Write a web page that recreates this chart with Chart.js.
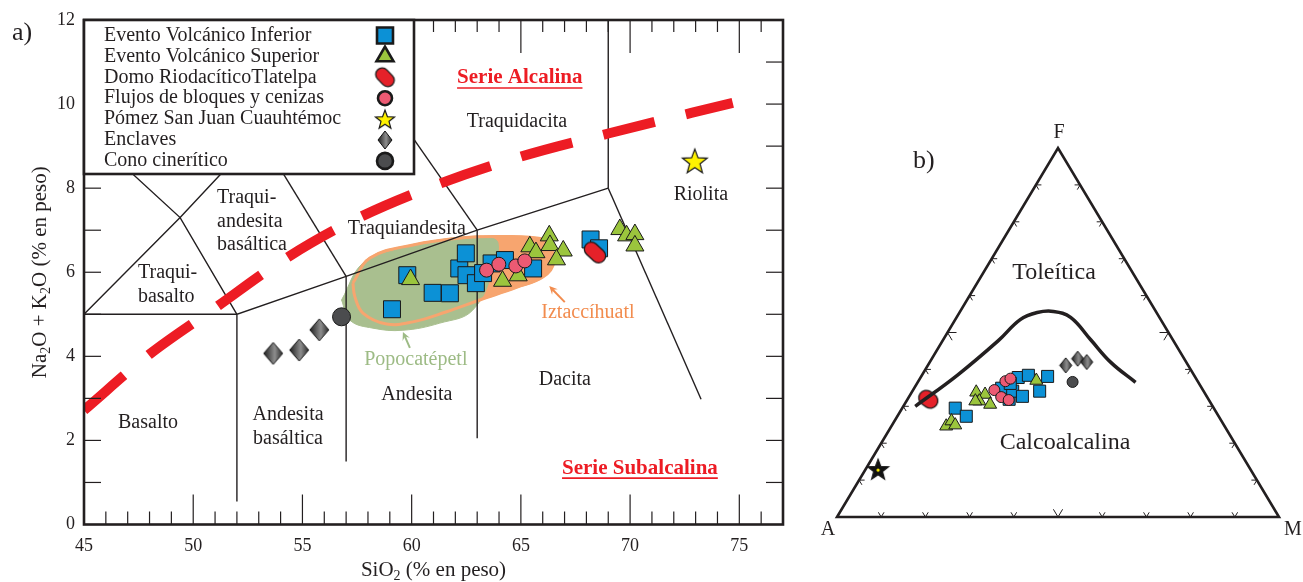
<!DOCTYPE html>
<html>
<head>
<meta charset="utf-8">
<script src="https://cdn.jsdelivr.net/npm/chart.js@4.4.1/dist/chart.umd.min.js"></script>
<style>
  body { margin: 0; background: #fff; }
  #tas { position: absolute; left: 0; top: 0; }
  #afm { position: absolute; left: 800px; top: 0; }
</style>
</head>
<body>
<canvas id="tas" width="800" height="582"></canvas>
<canvas id="afm" width="503" height="582"></canvas>
<script>
// ---- datos ----
const xTicks = [45, 50, 55, 60, 65, 70, 75];
const yTicks = [0, 2, 4, 6, 8, 10, 12];

// diagrama TAS: [SiO2, Na2O + K2O]
const inferiorTAS = [[59.1, 5.12], [59.8, 5.93], [60.96, 5.51], [61.75, 5.5], [62.18, 6.09], [62.48, 6.45], [62.51, 5.93],
  [62.94, 5.74], [63.27, 5.98], [63.66, 6.21], [64.27, 6.29], [65.56, 6.09], [68.19, 6.78], [68.58, 6.57]];
const superiorTAS = [[59.95, 5.83], [64.16, 5.79], [64.88, 5.92], [65.41, 6.61], [65.69, 6.47], [66.3, 6.87], [66.33, 6.64],
  [66.94, 6.51], [66.63, 6.3], [69.53, 7.02], [69.84, 6.87], [70.22, 6.9], [70.22, 6.63]];
const domoTAS = [[68.39, 6.47]];
const flujosTAS = [[63.43, 6.05], [63.99, 6.19], [64.77, 6.15], [65.18, 6.27]];
const pomezTAS = [[72.96, 8.65]];
const enclavesTAS = [[53.66, 4.07], [54.85, 4.15], [55.77, 4.63]];
const conoTAS = [[56.79, 4.94]];

// campos de Popocatépetl e Iztaccíhuatl
const campoPopo = [[56.79, 5.34], [57.77, 6.22], [59.31, 6.53], [60.84, 6.73], [62.67, 6.85], [63.58, 6.82], [63.95, 6.7],
  [63.81, 6.17], [62.8, 5.1], [61.29, 4.79], [59.6, 4.62], [58.23, 4.67], [57.17, 4.86], [56.79, 5.34]];
const campoIzta = [[57.31, 5.74], [58.09, 6.34], [60.06, 6.65], [62.35, 6.82], [64.18, 6.85], [65.41, 6.83], [66.18, 6.73],
  [66.51, 6.25], [66.02, 5.89], [64.8, 5.64], [63.12, 5.34], [61.6, 5.06], [60.06, 4.82], [58.85, 4.77], [57.77, 5.03],
  [57.4, 5.42], [57.31, 5.74]];

// limites de campos (Le Bas et al.)
const limitesTAS = [
  [[45, 5], [52, 5]],
  [[52, 0.55], [52, 5], [57, 5.9], [63, 7], [69, 8]],
  [[57, 1.5], [57, 5.9]],
  [[63, 2.05], [63, 7]],
  [[69, 8], [73.25, 2.98]],
  [[69, 8], [69, 12]],
  [[45, 5], [49.4, 7.3], [53, 9.3], [56.7, 11.7]],
  [[45, 9.4], [49.4, 7.3], [52, 5]],
  [[53, 9.3], [57, 5.9]],
  [[56.7, 11.7], [63, 7]]
];
const lineaAlcalina = [[45, 2.72], [48, 4.05], [51, 5.15], [54, 6.25], [57, 7.15], [61, 8.05], [65, 8.75], [69, 9.3], [74.7, 10.03]];

// diagrama AFM: [A, F, M] en %
const inferiorAFM = [[58.5, 29.5, 12.0], [57.1, 27.3, 15.6], [45.3, 34.9, 19.8], [45.1, 31.9, 23.0], [43.2, 34.1, 22.7],
  [40.1, 37.8, 22.1], [41.7, 32.7, 25.6], [37.5, 38.4, 24.1], [37.1, 34.1, 28.8], [33.3, 38.1, 28.6], [42.7, 36.2, 21.1]];
const superiorAFM = [[63.0, 24.6, 12.4], [61.1, 26.0, 12.9], [60.8, 24.9, 14.3], [51.6, 33.8, 14.6], [49.9, 33.2, 16.9],
  [52.1, 31.4, 16.5], [50.1, 30.5, 19.4], [53.0, 31.4, 15.6], [36.4, 37.0, 26.6]];
const domoAFM = [[63.4, 31.9, 4.7]];
const flujosAFM = [[43.5, 36.8, 19.7], [42.0, 37.5, 20.5], [47.2, 34.4, 18.4], [46.6, 32.5, 20.9], [45.3, 31.7, 23.0]];
const pomezAFM = [[84.2, 13.0, 2.8]];
const enclavesAFM = [[27.7, 41.1, 31.2], [24.1, 42.9, 33.0], [22.5, 42.0, 35.5]];
const conoAFM = [[28.4, 36.6, 35.0]];
const curvaAFM = [[67.3, 30.0, 2.7], [53.6, 38.4, 8.0], [39.6, 47.8, 12.6], [31.8, 53.5, 14.7], [27.0, 55.4, 17.6],
  [23.2, 55.7, 21.1], [20.1, 54.1, 25.8], [18.6, 48.1, 33.3], [17.1, 41.9, 41.0], [14.2, 36.5, 49.3]];

// ---- estilos ----
const serif = '"Liberation Serif", "Times New Roman", serif';
const ink = '#231f20';
const azul = '#0c91d6', verde = '#9bc53d', rosa = '#ec5a73', rojo = '#e52129', gris = '#4b4c4e';
const verdeCampo = '#a9bf8f', naranja = '#f7a56f';

function lienzo(w, h, pintar) {
  const c = document.createElement('canvas');
  c.width = w; c.height = h;
  pintar(c.getContext('2d'), w, h);
  return c;
}
function capsula(len, wid, ang) {
  const s = Math.ceil(len + 6);
  return lienzo(s, s, (c) => {
    c.translate(s / 2, s / 2);
    c.rotate(ang);
    const r = wid / 2, h = len / 2 - r;
    c.beginPath();
    c.arc(h, 0, r, -Math.PI / 2, Math.PI / 2);
    c.arc(-h, 0, r, Math.PI / 2, Math.PI * 1.5);
    c.closePath();
    c.fillStyle = rojo; c.fill();
    c.lineWidth = 1.3; c.strokeStyle = '#1a1a1a'; c.stroke();
  });
}
function estrella(R, relleno, punto) {
  const s = Math.ceil(2 * R + 6);
  return lienzo(s, s, (c) => {
    c.translate(s / 2, s / 2 + R * 0.1);
    c.beginPath();
    for (let i = 0; i < 10; i++) {
      const r = i % 2 ? R * 0.42 : R;
      const a = -Math.PI / 2 + i * Math.PI / 5;
      c.lineTo(Math.cos(a) * r, Math.sin(a) * r);
    }
    c.closePath();
    c.fillStyle = relleno; c.fill();
    c.lineWidth = 1.2; c.strokeStyle = '#1a1a1a'; c.stroke();
    if (punto) {
      c.beginPath(); c.arc(0, 0, 1.6, 0, Math.PI * 2);
      c.fillStyle = punto; c.fill();
    }
  });
}
function rombo(w, h) {
  return lienzo(w + 4, h + 4, (c) => {
    const cx = (w + 4) / 2, cy = (h + 4) / 2;
    const g = c.createLinearGradient(cx - w / 2, 0, cx + w / 2, 0);
    g.addColorStop(0, '#1e1e1e');
    g.addColorStop(0.58, '#8e8e8e');
    g.addColorStop(1, '#2a2a2a');
    c.beginPath();
    c.moveTo(cx, cy - h / 2); c.lineTo(cx + w / 2, cy); c.lineTo(cx, cy + h / 2); c.lineTo(cx - w / 2, cy);
    c.closePath();
    c.fillStyle = g; c.fill();
    c.lineWidth = 1; c.strokeStyle = '#111'; c.stroke();
  });
}

const pt = arr => arr.map(p => ({ x: p[0], y: p[1] }));
const tern = arr => arr.map(p => ({ x: (p[2] + p[1] / 2) / 100, y: p[1] / 100 }));

function texto(ctx, s, x, y, size, align, color, bold) {
  ctx.font = (bold ? 'bold ' : '') + size + 'px ' + serif;
  ctx.fillStyle = color || ink;
  ctx.textAlign = align || 'center';
  ctx.textBaseline = 'middle';
  ctx.fillText(s, x, y);
}
function textoSub(ctx, partes, x, y, size) {
  const sub = Math.round(size * 0.68);
  let w = 0;
  partes.forEach(p => { ctx.font = (p[1] ? sub : size) + 'px ' + serif; w += ctx.measureText(p[0]).width; });
  let cx = x - w / 2;
  ctx.textAlign = 'left';
  ctx.textBaseline = 'middle';
  ctx.fillStyle = ink;
  partes.forEach(p => {
    ctx.font = (p[1] ? sub : size) + 'px ' + serif;
    ctx.fillText(p[0], cx, y + (p[1] ? size * 0.3 : 0));
    cx += ctx.measureText(p[0]).width;
  });
}
function linea(ctx, x1, y1, x2, y2) {
  ctx.beginPath(); ctx.moveTo(x1, y1); ctx.lineTo(x2, y2); ctx.stroke();
}
function flecha(ctx, x1, y1, x2, y2, color) {
  const a = Math.atan2(y2 - y1, x2 - x1);
  ctx.strokeStyle = color; ctx.fillStyle = color; ctx.lineWidth = 2;
  linea(ctx, x1, y1, x2 - Math.cos(a) * 4, y2 - Math.sin(a) * 4);
  ctx.beginPath();
  ctx.moveTo(x2, y2);
  ctx.lineTo(x2 - Math.cos(a - 0.45) * 9, y2 - Math.sin(a - 0.45) * 9);
  ctx.lineTo(x2 - Math.cos(a) * 5, y2 - Math.sin(a) * 5);
  ctx.lineTo(x2 - Math.cos(a + 0.45) * 9, y2 - Math.sin(a + 0.45) * 9);
  ctx.closePath();
  ctx.fill();
}

// etiquetas de campos en coordenadas de datos
const etiquetasTAS = [
  ['Traquidacita', 64.82, 9.57, 'center'],
  ['Riolita', 73.24, 7.84, 'center'],
  ['Traquiandesita', 59.78, 7.03, 'center'],
  ['Traqui-', 51.09, 7.77, 'left'], ['andesita', 51.09, 7.2, 'left'], ['basáltica', 51.09, 6.65, 'left'],
  ['Traqui-', 47.47, 5.98, 'left'], ['basalto', 47.47, 5.41, 'left'],
  ['Basalto', 47.93, 2.41, 'center'],
  ['Andesita', 54.34, 2.6, 'center'], ['basáltica', 54.34, 2.03, 'center'],
  ['Andesita', 60.24, 3.08, 'center'],
  ['Dacita', 67.01, 3.44, 'center']
];

const estiloDomo = capsula(24, 14, 0.75), estiloDomoLey = capsula(21, 13, 0.8), estiloDomoT = capsula(20, 15, 0.6);
const estiloPomez = estrella(13, '#fff200'), estiloPomezLey = estrella(10, '#fff200'), estiloPomezT = estrella(11, '#111', '#fff200');
const estiloRombo = rombo(19, 22), estiloRomboLey = rombo(14, 18), estiloRomboT = rombo(12, 15);

const series = [
  { label: 'Evento Volcánico Inferior', tas: inferiorTAS, afm: inferiorAFM, style: 'rect', color: azul, r: 12, rl: 11.3, rt: 8.5 },
  { label: 'Evento Volcánico Superior', tas: superiorTAS, afm: superiorAFM, style: 'triangle', color: verde, r: 10.4, rl: 9.8, rt: 7.5 },
  { label: 'Domo RiodacíticoTlatelpa', tas: domoTAS, afm: domoAFM, style: estiloDomo, sl: estiloDomoLey, st: estiloDomoT, color: rojo, r: 10, rl: 10, rt: 10 },
  { label: 'Flujos de bloques y cenizas', tas: flujosTAS, afm: flujosAFM, style: 'circle', color: rosa, r: 7, rl: 7, rt: 5.5 },
  { label: 'Pómez San Juan Cuauhtémoc', tas: pomezTAS, afm: pomezAFM, style: estiloPomez, sl: estiloPomezLey, st: estiloPomezT, color: '#fff200', r: 10, rl: 10, rt: 10 },
  { label: 'Enclaves', tas: enclavesTAS, afm: enclavesAFM, style: estiloRombo, sl: estiloRomboLey, st: estiloRomboT, color: gris, r: 10, rl: 10, rt: 10 },
  { label: 'Cono cinerítico', tas: conoTAS, afm: conoAFM, style: 'circle', color: gris, r: 9, rl: 8, rt: 5.5 }
];

// ---- diagrama TAS ----
const decoracionTAS = {
  id: 'decoracionTAS',
  afterDatasetsDraw(chart) {
    const { ctx, chartArea: a, scales: { x, y } } = chart;
    ctx.save();
    etiquetasTAS.forEach(e => texto(ctx, e[0], x.getPixelForValue(e[1]), y.getPixelForValue(e[2]), 20, e[3]));
    // series alcalina / subalcalina
    [['Serie Alcalina', 64.95, 10.62], ['Serie Subalcalina', 70.45, 1.34]].forEach(e => {
      const px = x.getPixelForValue(e[1]), py = y.getPixelForValue(e[2]);
      texto(ctx, e[0], px, py, 21, 'center', '#ed1c24', true);
      const w = ctx.measureText(e[0]).width;
      ctx.strokeStyle = '#ed1c24'; ctx.lineWidth = 1.6;
      linea(ctx, px - w / 2, py + 10, px + w / 2, py + 10);
    });
    texto(ctx, 'Popocatépetl', x.getPixelForValue(60.19), y.getPixelForValue(3.91), 20, 'center', '#9dbb85');
    texto(ctx, 'Iztaccíhuatl', x.getPixelForValue(68.07), y.getPixelForValue(5.03), 20, 'center', '#f28c4e');
    flecha(ctx, x.getPixelForValue(59.92), y.getPixelForValue(4.2), x.getPixelForValue(59.6), y.getPixelForValue(4.58), '#9dbb85');
    flecha(ctx, x.getPixelForValue(67.01), y.getPixelForValue(5.29), x.getPixelForValue(66.3), y.getPixelForValue(5.67), '#f28c4e');

    // marco y marcas internas
    ctx.strokeStyle = ink;
    ctx.lineWidth = 1.2;
    for (let v = 46; v < 77; v++) {
      const px = x.getPixelForValue(v), mayor = v % 5 === 0;
      linea(ctx, px, a.bottom, px, a.bottom - (mayor ? 30 : 13));
      linea(ctx, px, a.top, px, a.top + (mayor ? 33 : 12));
    }
    for (let v = 1; v < 12; v++) {
      const py = y.getPixelForValue(v);
      linea(ctx, a.left, py, a.left + 17, py);
      linea(ctx, a.right, py, a.right - 17, py);
    }
    ctx.lineWidth = 2.6;
    ctx.strokeRect(a.left, a.top, a.right - a.left, a.bottom - a.top);

    // leyenda
    const lx = a.left, ly = a.top, lw = 330, lh = 154;
    ctx.fillStyle = '#fff';
    ctx.fillRect(lx, ly, lw, lh);
    ctx.lineWidth = 2.6; ctx.strokeStyle = ink;
    ctx.strokeRect(lx, ly, lw, lh);
    series.forEach((s, i) => {
      const ry = ly + 15.5 + i * 20.9;
      texto(ctx, s.label, lx + 20, ry, 20, 'left');
      ctx.fillStyle = s.color; ctx.strokeStyle = '#1a1a1a';
      Chart.helpers.drawPoint(ctx, { pointStyle: s.sl || s.style, radius: s.rl, rotation: 0, borderWidth: 1 }, lx + 301, ry);
    });

    // titulos
    texto(ctx, 'a)', 12, 33, 26, 'left');
    textoSub(ctx, [['SiO', 0], ['2', 1], [' (% en peso)', 0]], (a.left + a.right) / 2, 570, 21);
    ctx.translate(40, (a.top + a.bottom) / 2);
    ctx.rotate(-Math.PI / 2);
    textoSub(ctx, [['Na', 0], ['2', 1], ['O + K', 0], ['2', 1], ['O (% en peso)', 0]], 0, 0, 21);
    ctx.restore();
  }
};

const datosTAS = [
  { type: 'line', data: pt(campoIzta), backgroundColor: naranja, borderColor: naranja, borderWidth: 2, fill: 'shape', tension: 0.4, pointRadius: 0, order: 30 },
  { type: 'line', data: pt(campoPopo), backgroundColor: verdeCampo, borderColor: verdeCampo, borderWidth: 1, fill: 'shape', tension: 0.4, pointRadius: 0, order: 29 },
  { type: 'line', data: pt(campoIzta), borderColor: naranja, borderWidth: 3, fill: false, tension: 0.4, pointRadius: 0, order: 28 }
];
limitesTAS.forEach(l => datosTAS.push({ type: 'line', data: pt(l), borderColor: ink, borderWidth: 1.4, fill: false, tension: 0, pointRadius: 0, order: 20 }));
datosTAS.push({ type: 'line', data: pt(lineaAlcalina), borderColor: '#ed1c24', borderWidth: 10, borderDash: [53, 32],
  borderCapStyle: 'butt', cubicInterpolationMode: 'monotone', fill: false, pointRadius: 0, order: 15 });
series.forEach((s, i) => datosTAS.push({
  type: 'scatter', label: s.label, data: pt(s.tas), pointStyle: s.style, pointRadius: s.r,
  backgroundColor: s.color, borderColor: '#1a1a1a', borderWidth: 1, order: 8 - i
}));

new Chart(document.getElementById('tas'), {
  type: 'scatter',
  data: { datasets: datosTAS },
  options: {
    responsive: false, animation: false, events: [],
    layout: { padding: { top: 20, right: 17, left: 0, bottom: 0 } },
    plugins: { legend: { display: false }, tooltip: { enabled: false } },
    scales: {
      x: {
        type: 'linear', min: 45, max: 77,
        grid: { display: false, drawTicks: false }, border: { display: false },
        afterBuildTicks: s => { s.ticks = xTicks.map(v => ({ value: v })); },
        afterFit: s => { s.height = 57.5; },
        ticks: { font: { family: serif, size: 18 }, color: ink, padding: 11, maxRotation: 0, autoSkip: false }
      },
      y: {
        type: 'linear', min: 0, max: 12,
        grid: { display: false, drawTicks: false }, border: { display: false },
        afterBuildTicks: s => { s.ticks = yTicks.map(v => ({ value: v })); },
        afterFit: s => { s.width = 84; },
        ticks: { font: { family: serif, size: 18 }, color: ink, padding: 9, autoSkip: false }
      }
    }
  },
  plugins: [decoracionTAS]
});

// ---- diagrama AFM ----
const decoracionAFM = {
  id: 'decoracionAFM',
  beforeDatasetsDraw(chart) {
    const { ctx, scales: { x, y } } = chart;
    const P = (a, f, m) => ({ x: x.getPixelForValue((m + f / 2) / 100), y: y.getPixelForValue(f / 100) });
    const A = P(100, 0, 0), F = P(0, 100, 0), M = P(0, 0, 100);
    const dir = (p, q) => { const dx = q.x - p.x, dy = q.y - p.y, n = Math.hypot(dx, dy); return { x: dx / n, y: dy / n }; };
    const dAF = dir(A, F), dAM = dir(A, M), dMF = dir(M, F);
    ctx.save();
    ctx.strokeStyle = ink;
    ctx.lineWidth = 1;
    const marca = (p, u, v, len) => {
      linea(ctx, p.x, p.y, p.x + u.x * len, p.y + u.y * len);
      linea(ctx, p.x, p.y, p.x + v.x * len, p.y + v.y * len);
    };
    for (let i = 1; i < 10; i++) {
      const t = i / 10, len = i === 5 ? 9 : 5.5;
      marca({ x: A.x + (F.x - A.x) * t, y: A.y + (F.y - A.y) * t }, dAM, { x: -dMF.x, y: -dMF.y }, len);
      marca({ x: M.x + (F.x - M.x) * t, y: M.y + (F.y - M.y) * t }, { x: -dAM.x, y: -dAM.y }, { x: -dAF.x, y: -dAF.y }, len);
      marca({ x: A.x + (M.x - A.x) * t, y: A.y + (M.y - A.y) * t }, dAF, dMF, len);
    }
    ctx.lineWidth = 2.6;
    ctx.lineJoin = 'miter';
    ctx.beginPath();
    ctx.moveTo(A.x, A.y); ctx.lineTo(M.x, M.y); ctx.lineTo(F.x, F.y); ctx.closePath();
    ctx.stroke();
    texto(ctx, 'F', F.x + 1, F.y - 15, 20);
    texto(ctx, 'A', A.x - 9, A.y + 13, 20);
    texto(ctx, 'M', M.x + 14, M.y + 13, 20);
    texto(ctx, 'b)', 113, 161, 26, 'left');
    texto(ctx, 'Toleítica', 254, 273, 24);
    texto(ctx, 'Calcoalcalina', 265, 443, 24);
    ctx.restore();
  }
};

const datosAFM = [
  { type: 'line', data: tern(curvaAFM), borderColor: ink, borderWidth: 3.5, fill: false, tension: 0.4, pointRadius: 0, order: 0, clip: false }
];
series.forEach((s, i) => datosAFM.push({
  type: 'scatter', label: s.label, data: tern(s.afm), pointStyle: s.st || s.style, pointRadius: s.rt,
  backgroundColor: s.color, borderColor: '#1a1a1a', borderWidth: 1, order: 8 - i, clip: false
}));

new Chart(document.getElementById('afm'), {
  type: 'scatter',
  data: { datasets: datosAFM },
  options: {
    responsive: false, animation: false, events: [],
    layout: { padding: { top: 148, right: 24, left: 37, bottom: 65 } },
    plugins: { legend: { display: false }, tooltip: { enabled: false } },
    scales: {
      x: { type: 'linear', min: 0, max: 1, display: false },
      y: { type: 'linear', min: 0, max: 1, display: false }
    }
  },
  plugins: [decoracionAFM]
});
</script>
</body>
</html>
